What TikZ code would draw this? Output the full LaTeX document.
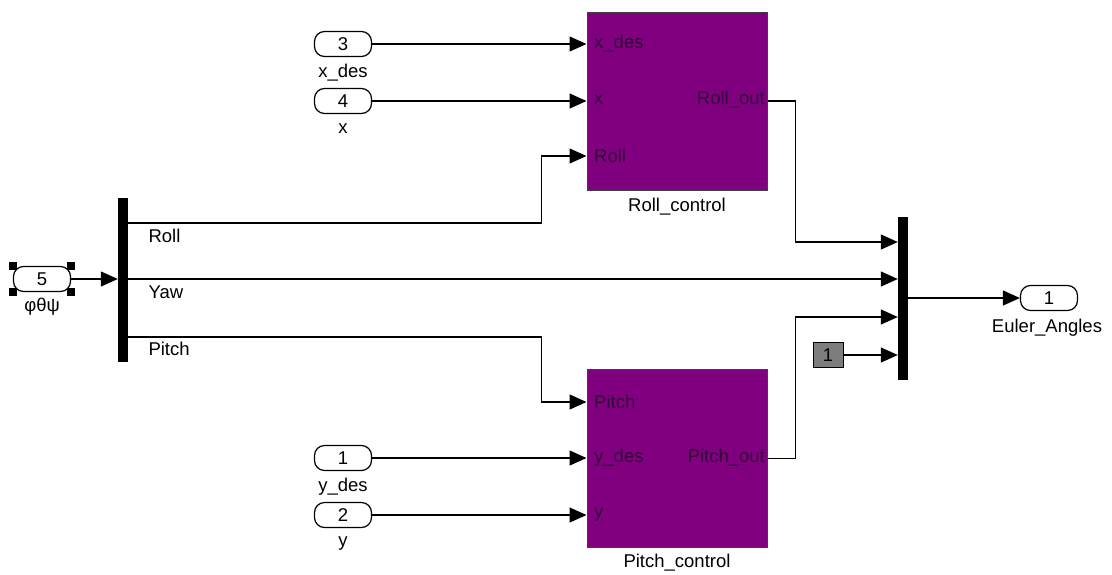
\documentclass[tikz,border=0pt]{standalone}
\usepackage{fontspec}
\setmainfont{Liberation Sans}
\usetikzlibrary{arrows.meta}
\definecolor{simpurple}{RGB}{128,0,128}
\definecolor{portdark}{RGB}{50,4,56}
\definecolor{constgray}{RGB}{125,125,125}
\tikzset{
  inport/.style={draw,line width=1.2pt,rounded corners=10pt,minimum width=57pt,minimum height=25pt,inner sep=0pt},
  subsys/.style={draw=black!75,line width=1pt,fill=simpurple,minimum width=180pt,minimum height=178pt,inner sep=0pt},
  muxbar/.style={fill=black,minimum width=10pt,inner sep=0pt},
  sig/.style={line width=1.2pt,-{Triangle[length=17pt,width=15pt]}},
  plab/.style={text=portdark,inner sep=0pt}
}
\begin{document}
\begin{tikzpicture}[x=1pt,y=-1pt,font=\fontsize{18.5}{20}\selectfont]
    \useasboundingbox (0,0) rectangle (1112,574);
    % inports
    \node[inport] (in5) at (42,279) {5};
    \node (in5lab) at (42,307) {φθψ};
    \foreach \c in {north west,north east,south west,south east}
        \fill ([shift={(-4,-4)}]in5.\c) rectangle ++(8,8);
    \node[inport] (in3) at (343,44) {3};
    \node (in3lab) at (343,73) {x\_des};
    \node[inport] (in4) at (343,101) {4};
    \node (in4lab) at (343,129) {x};
    \node[inport] (in1) at (343,458) {1};
    \node (in1lab) at (343,487) {y\_des};
    \node[inport] (in2) at (343,515) {2};
    \node (in2lab) at (343,544) {y};
    % demux and mux
    \node[muxbar,minimum height=164pt] (demux) at (123,280) {};
    \node[muxbar,minimum height=163pt] (mux) at (903,298.5) {};
    \node[anchor=west] (rolllab) at (145,236) {Roll};
    \node[anchor=west] (yawlab) at (145,292) {Yaw};
    \node[anchor=west] (pitchlab) at (145,349) {Pitch};
    % subsystems
    \node[subsys] (rollc) at (677,101) {};
    \node (rollclab) at (677,207) {Roll\_control};
    \node[plab,anchor=west] at (594,44) {x\_des};
    \node[plab,anchor=west] at (594,100) {x};
    \node[plab,anchor=west] at (594,156) {Roll};
    \node[plab,anchor=east] at (765,100) {Roll\_out};
    \node[subsys] (pitchc) at (677,458.5) {};
    \node (pitchclab) at (677,563) {Pitch\_control};
    \node[plab,anchor=west] at (594,402) {Pitch};
    \node[plab,anchor=west] at (594,458) {y\_des};
    \node[plab,anchor=west] at (594,515) {y};
    \node[plab,anchor=east] at (765,458) {Pitch\_out};
    % constant and outport
    \node[draw,fill=constgray,minimum width=30pt,minimum height=25pt,inner sep=0pt] (const) at (828,355) {1};
    \node[inport] (out1) at (1049,298) {1};
    \node (out1lab) at (1047,328) {Euler\_Angles};
    % signals
    \draw[sig] (in5) -- (demux.west |- in5);
    \draw[sig] (in3) -- (rollc.west |- in3);
    \draw[sig] (in4) -- (rollc.west |- in4);
    \draw[sig] (demux.east |- 0,223) -- ++(413,0) |- (rollc.west |- 0,156);
    \draw[sig] (demux.east |- 0,279) -- (mux.west |- 0,279);
    \draw[sig] (demux.east |- 0,337) -- ++(413,0) |- (pitchc.west |- 0,402);
    \draw[sig] (in1) -- (pitchc.west |- in1);
    \draw[sig] (in2) -- (pitchc.west |- in2);
    \draw[sig] (rollc.east) -- ++(28,0) |- (mux.west |- 0,242);
    \draw[sig] (pitchc.east) -- ++(28,0) |- (mux.west |- 0,317);
    \draw[sig] (const) -- (mux.west |- const);
    \draw[sig] (mux.east |- out1) -- (out1);
\end{tikzpicture}
\end{document}
